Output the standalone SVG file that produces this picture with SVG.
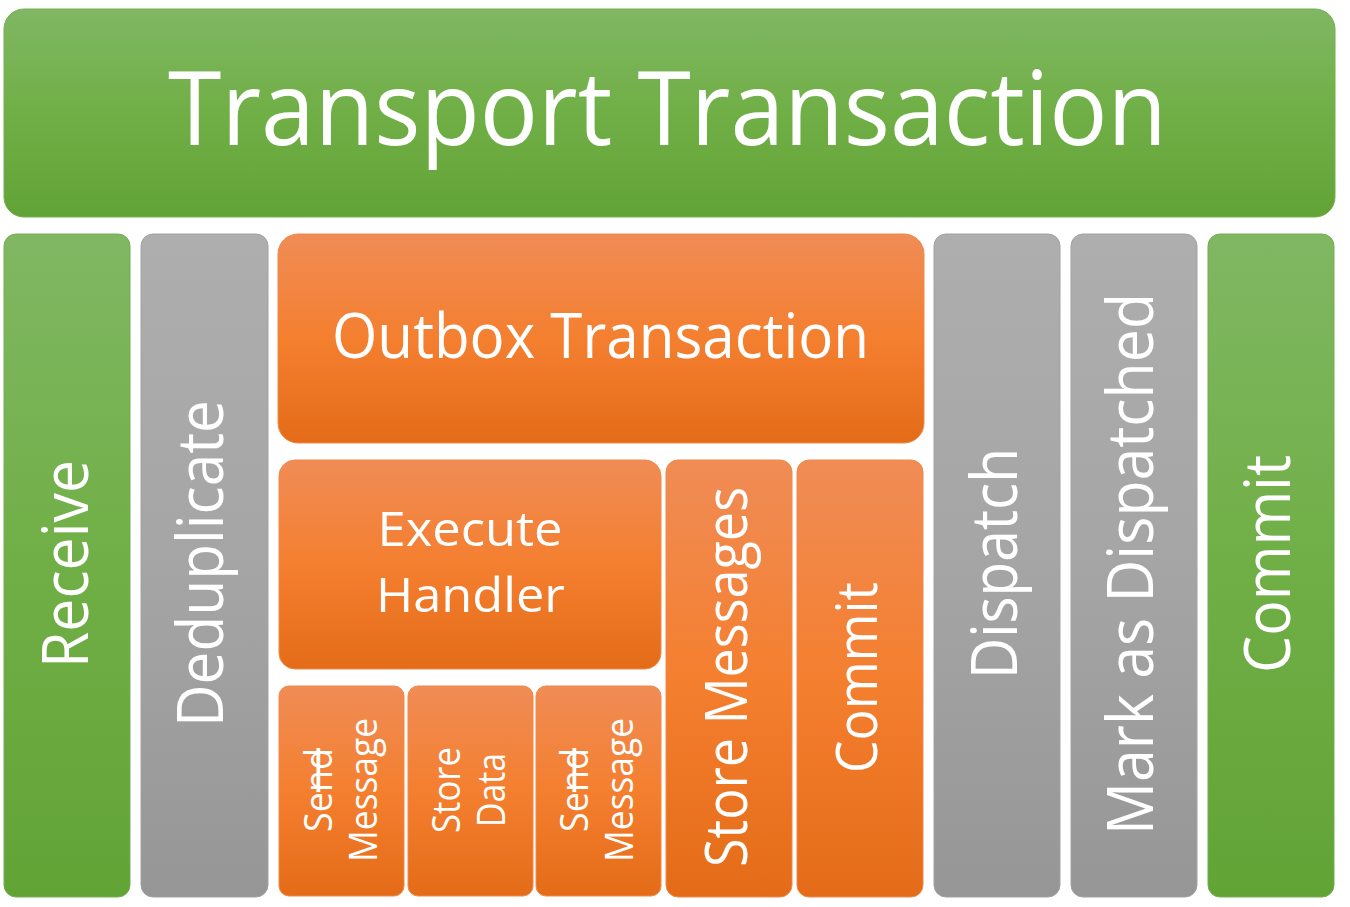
<svg xmlns="http://www.w3.org/2000/svg" width="1350" height="907" viewBox="0 0 1350 907">
<defs>
<linearGradient id="gGreen" x1="0" y1="0" x2="0" y2="1">
<stop offset="0" stop-color="#80B763"/><stop offset="0.5" stop-color="#70AF46"/><stop offset="1" stop-color="#62A336"/>
</linearGradient>
<linearGradient id="gGray" x1="0" y1="0" x2="0" y2="1">
<stop offset="0" stop-color="#AEAEAE"/><stop offset="0.5" stop-color="#A5A5A5"/><stop offset="1" stop-color="#969696"/>
</linearGradient>
<linearGradient id="gOrange" x1="0" y1="0" x2="0" y2="1">
<stop offset="0" stop-color="#F08C56"/><stop offset="0.5" stop-color="#F47F2F"/><stop offset="1" stop-color="#E46C18"/>
</linearGradient>
</defs>
<style>
.green{fill:url(#gGreen);stroke:#74AE50;stroke-width:1}
.gray{fill:url(#gGray);stroke:#A2A2A2;stroke-width:1}
.orange{fill:url(#gOrange);stroke:#F0894A;stroke-width:1}
text{font-family:"Open Sans","Noto Sans","Liberation Sans",sans-serif;fill:#FFFFFF;text-anchor:middle}
.big{font-size:64px}
.small{font-size:38px}
</style>
<rect width="1350" height="907" fill="#FFFFFF"/>
<g id="transport-transaction">
<rect class="green" x="4" y="9" width="1331" height="208" rx="20"/>
<text x="667.5" y="145" font-size="102" textLength="999" lengthAdjust="spacingAndGlyphs">Transport Transaction</text>
</g>
<g id="receive">
<rect class="green" x="4" y="234" width="126" height="663" rx="12"/>
<text class="big" transform="translate(88,564) rotate(-90)" textLength="208" lengthAdjust="spacingAndGlyphs">Receive</text>
</g>
<g id="deduplicate">
<rect class="gray" x="141" y="234" width="127" height="663" rx="12"/>
<text class="big" transform="translate(223,563.5) rotate(-90)" textLength="327" lengthAdjust="spacingAndGlyphs">Deduplicate</text>
</g>
<g id="outbox-transaction">
<rect class="orange" x="278" y="234" width="646" height="209" rx="20"/>
<text x="600.5" y="358" font-size="63" textLength="537" lengthAdjust="spacingAndGlyphs">Outbox Transaction</text>
</g>
<g id="execute-handler">
<rect class="orange" x="279" y="460" width="382" height="209" rx="16"/>
<text x="470" y="546" font-size="48" textLength="185" lengthAdjust="spacingAndGlyphs">Execute</text>
<text x="470.5" y="612" font-size="48" textLength="189" lengthAdjust="spacingAndGlyphs">Handler</text>
</g>
<g id="send-message-1">
<rect class="orange" x="279" y="686" width="125" height="210" rx="10"/>
<text class="small" transform="translate(332,790) rotate(-90)" textLength="84" lengthAdjust="spacingAndGlyphs">Se<tspan text-decoration="line-through">nd</tspan></text>
<text class="small" transform="translate(377,790) rotate(-90)" textLength="144" lengthAdjust="spacingAndGlyphs">Message</text>
</g>
<g id="store-data">
<rect class="orange" x="408" y="686" width="125" height="210" rx="10"/>
<text class="small" transform="translate(460,790) rotate(-90)" textLength="86" lengthAdjust="spacingAndGlyphs">Store</text>
<text class="small" transform="translate(505,790) rotate(-90)" textLength="74" lengthAdjust="spacingAndGlyphs">Data</text>
</g>
<g id="send-message-2">
<rect class="orange" x="536" y="686" width="125" height="210" rx="10"/>
<text class="small" transform="translate(588,790) rotate(-90)" textLength="84" lengthAdjust="spacingAndGlyphs">Se<tspan text-decoration="line-through">nd</tspan></text>
<text class="small" transform="translate(633,790) rotate(-90)" textLength="144" lengthAdjust="spacingAndGlyphs">Message</text>
</g>
<g id="store-messages">
<rect class="orange" x="666" y="460" width="126" height="437" rx="12"/>
<text transform="translate(747,677) rotate(-90)" font-size="59" textLength="380" lengthAdjust="spacingAndGlyphs">Store Messages</text>
</g>
<g id="outbox-commit">
<rect class="orange" x="797" y="460" width="126" height="437" rx="12"/>
<text transform="translate(877,677.5) rotate(-90)" font-size="56" textLength="191" lengthAdjust="spacingAndGlyphs">Commit</text>
</g>
<g id="dispatch">
<rect class="gray" x="934" y="234" width="126" height="663" rx="12"/>
<text class="big" transform="translate(1017,563.5) rotate(-90)" textLength="231" lengthAdjust="spacingAndGlyphs">Dispatch</text>
</g>
<g id="mark-as-dispatched">
<rect class="gray" x="1071" y="234" width="126" height="663" rx="12"/>
<text class="big" transform="translate(1153,564) rotate(-90)" textLength="542" lengthAdjust="spacingAndGlyphs">Mark as Dispatched</text>
</g>
<g id="transport-commit">
<rect class="green" x="1208" y="234" width="126" height="663" rx="12"/>
<text class="big" transform="translate(1290,564) rotate(-90)" textLength="218" lengthAdjust="spacingAndGlyphs">Commit</text>
</g>
<g id="connectors"/>
</svg>
